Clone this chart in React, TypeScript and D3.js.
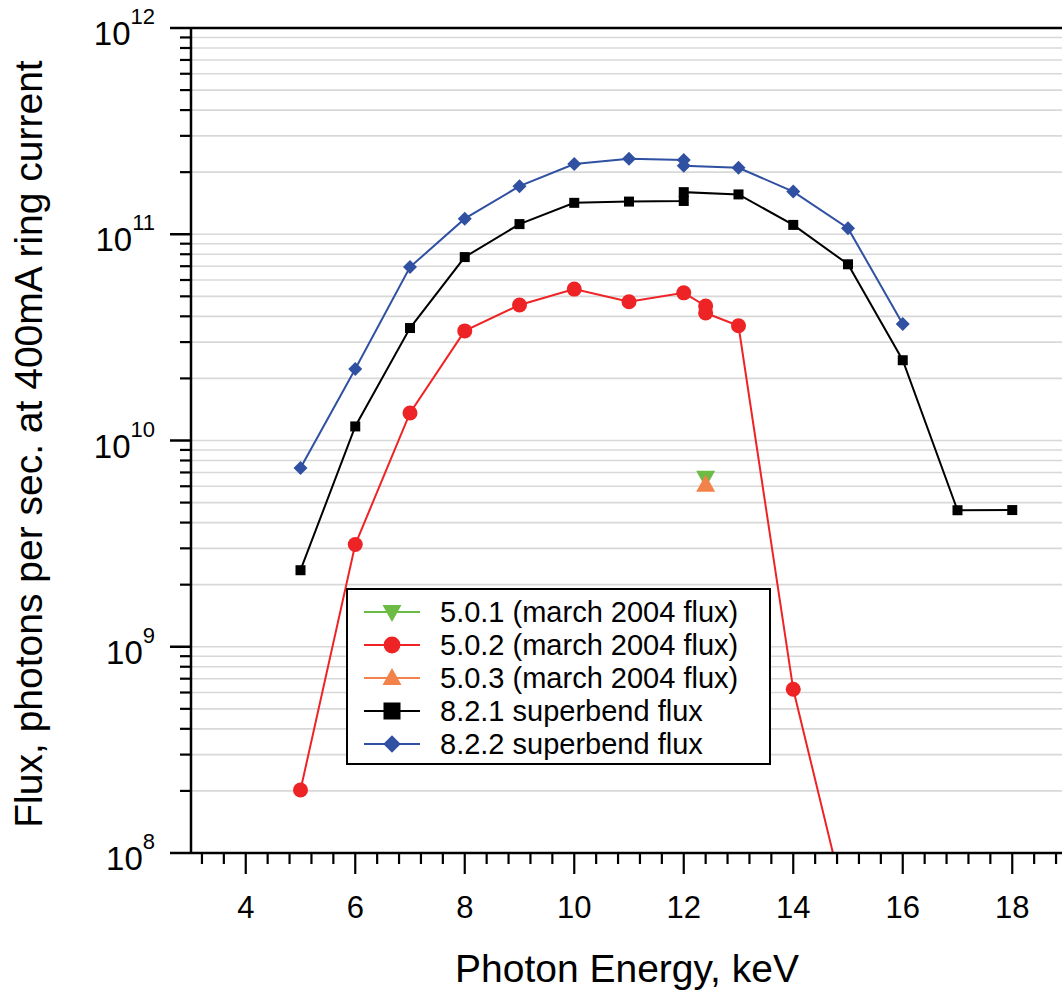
import React from 'react';
import * as d3 from 'd3';

const W = 1062;
const H = 993;

// series
const blueX = [5, 6, 7, 8, 9, 10, 11, 12, 12, 13, 14, 15, 16];
const blueY = [7.35e9, 2.22e10, 6.93e10, 1.19e11, 1.71e11, 2.19e11, 2.32e11, 2.29e11, 2.15e11, 2.1e11, 1.61e11, 1.07e11, 3.67e10];

const blackX = [5, 6, 7, 8, 9, 10, 11, 12, 12, 13, 14, 15, 16, 17, 18];
const blackY = [2.35e9, 1.17e10, 3.51e10, 7.75e10, 1.12e11, 1.42e11, 1.44e11, 1.45e11, 1.6e11, 1.56e11, 1.11e11, 7.15e10, 2.45e10, 4.59e9, 4.6e9];

const redX = [5, 6, 7, 8, 9, 10, 11, 12, 12.4, 12.4, 13, 14, 15];
const redY = [2.02e8, 3.13e9, 1.36e10, 3.4e10, 4.54e10, 5.42e10, 4.71e10, 5.2e10, 4.49e10, 4.15e10, 3.6e10, 6.22e8, 5e7];

const greenX = [12.4];
const greenY = [6.6e9];
const orangeX = [12.4];
const orangeY = [6.1e9];

const legendLabels = [
  '5.0.1 (march 2004 flux)',
  '5.0.2 (march 2004 flux)',
  '5.0.3 (march 2004 flux)',
  '8.2.1 superbend flux',
  '8.2.2 superbend flux',
];

const xMajor = [4, 6, 8, 10, 12, 14, 16, 18];
const decades = [8, 9, 10, 11, 12];

const FONT = "'Liberation Sans', Arial, Helvetica, sans-serif";

const x = d3.scaleLinear().domain([3, 19]).range([191, 191 + 16 * 54.75]);
const y = d3.scaleLog().domain([1e8, 1e12]).range([853, 28]);

type Kind = 'down' | 'circle' | 'up' | 'square' | 'diamond';

function Marker({ kind, cx, cy, color, s = 1 }: { kind: Kind; cx: number; cy: number; color: string; s?: number }) {
  if (kind === 'circle') return <circle cx={cx} cy={cy} r={7.5 * s} fill={color} />;
  if (kind === 'square') return <rect x={cx - 5 * s} y={cy - 5 * s} width={10 * s} height={10 * s} fill={color} />;
  if (kind === 'diamond')
    return <path d={`M${cx},${cy - 7 * s}L${cx + 7 * s},${cy}L${cx},${cy + 7 * s}L${cx - 7 * s},${cy}Z`} fill={color} />;
  if (kind === 'up')
    return <path d={`M${cx},${cy - 10}L${cx + 9.5},${cy + 7}L${cx - 9.5},${cy + 7}Z`} fill={color} />;
  return <path d={`M${cx},${cy + 10}L${cx + 9.5},${cy - 7}L${cx - 9.5},${cy - 7}Z`} fill={color} />;
}

const series = [
  { xs: greenX, ys: greenY, color: '#6cbb45', kind: 'down' as Kind, ls: 1 },
  { xs: redX, ys: redY, color: '#ee2326', kind: 'circle' as Kind, ls: 1.12 },
  { xs: orangeX, ys: orangeY, color: '#f3824a', kind: 'up' as Kind, ls: 1 },
  { xs: blackX, ys: blackY, color: '#000000', kind: 'square' as Kind, ls: 1.7 },
  { xs: blueX, ys: blueY, color: '#3050a2', kind: 'diamond' as Kind, ls: 1.25 },
];

export default function App() {
  const line = d3.line<[number, number]>().x(d => x(d[0])).y(d => y(d[1]));
  const [x0, x1] = x.range();
  const [yb, yt] = y.range();

  const minorY: number[] = [];
  decades.slice(0, -1).forEach(p => {
    for (let k = 1; k < 10; k++) {
      if (k === 1 && p === 8) continue;
      minorY.push(k * Math.pow(10, p));
    }
  });

  const minorX = d3.range(3.2, 19, 0.4).filter(v => Math.abs(v / 2 - Math.round(v / 2)) > 0.01);

  return (
    <svg width={W} height={H} style={{ position: 'absolute', left: 0, top: 0, background: '#fff' }} fontFamily={FONT}>
      <defs>
        <clipPath id="plot">
          <rect x={x0} y={yt} width={x1 - x0} height={yb - yt} />
        </clipPath>
      </defs>
      {/* gridlines */}
      {minorY.map(v => (
        <line key={'g' + v} x1={x0} x2={x1} y1={y(v)} y2={y(v)} stroke="#d8d8d8" strokeWidth={1.6} />
      ))}

      {/* series */}
      <g clipPath="url(#plot)">
        {series.map((s, i) => (
          <path key={'l' + i} d={line(s.xs.map((v, j) => [v, s.ys[j]]))!} fill="none" stroke={s.color} strokeWidth={2} />
        ))}
        {series.map((s, i) =>
          s.xs.map((v, j) => <Marker key={`m${i}-${j}`} kind={s.kind} cx={x(v)} cy={y(s.ys[j])} color={s.color} />)
        )}
      </g>

      {/* axes */}
      <line x1={x0} x2={x0} y1={yt} y2={yb} stroke="#000" strokeWidth={2.5} />
      <line x1={x0 - 21} x2={x1} y1={yb} y2={yb} stroke="#000" strokeWidth={2.5} />
      <line x1={x0 - 21} x2={x1} y1={yt} y2={yt} stroke="#000" strokeWidth={2.5} />
      {decades.slice(1, -1).map(p => (
        <line key={'mj' + p} x1={x0 - 21} x2={x0} y1={y(Math.pow(10, p))} y2={y(Math.pow(10, p))} stroke="#000" strokeWidth={2.5} />
      ))}
      {minorY.filter(v => Math.abs(Math.log10(v) % 1) > 0.01).map(v => (
        <line key={'mt' + v} x1={x0 - 11} x2={x0} y1={y(v)} y2={y(v)} stroke="#000" strokeWidth={2.2} />
      ))}
      {decades.map(p => (
        <text key={'yl' + p} x={155} y={y(Math.pow(10, p)) + 17} textAnchor="end" fontSize={33}>
          10<tspan fontSize={22} dy={-21}>{p}</tspan>
        </text>
      ))}

      {xMajor.map(v => (
        <g key={'xt' + v}>
          <line x1={x(v)} x2={x(v)} y1={yb} y2={yb + 21} stroke="#000" strokeWidth={2.2} />
          <text x={x(v)} y={yb + 65} textAnchor="middle" fontSize={31}>{v}</text>
        </g>
      ))}
      {minorX.map(v => (
        <line key={'xm' + v} x1={x(v)} x2={x(v)} y1={yb} y2={yb + 11} stroke="#000" strokeWidth={2.2} />
      ))}

      <text x={627} y={982} textAnchor="middle" fontSize={39}>Photon Energy, keV</text>
      <text transform="rotate(-90)" x={-444} y={42} textAnchor="middle" fontSize={39}>
        Flux, photons per sec. at 400mA ring current
      </text>

      {/* legend */}
      <rect x={347} y={589} width={423} height={175} fill="#fff" stroke="#000" strokeWidth={2} />
      {series.map((s, i) => {
        const ly = 612 + i * 33;
        return (
          <g key={'lg' + i}>
            <line x1={364} x2={420} y1={ly} y2={ly} stroke={s.color} strokeWidth={2} />
            <Marker kind={s.kind} cx={392} cy={ly} color={s.color} s={s.ls} />
            <text x={440} y={ly + 10} fontSize={29}>{legendLabels[i]}</text>
          </g>
        );
      })}
    </svg>
  );
}
